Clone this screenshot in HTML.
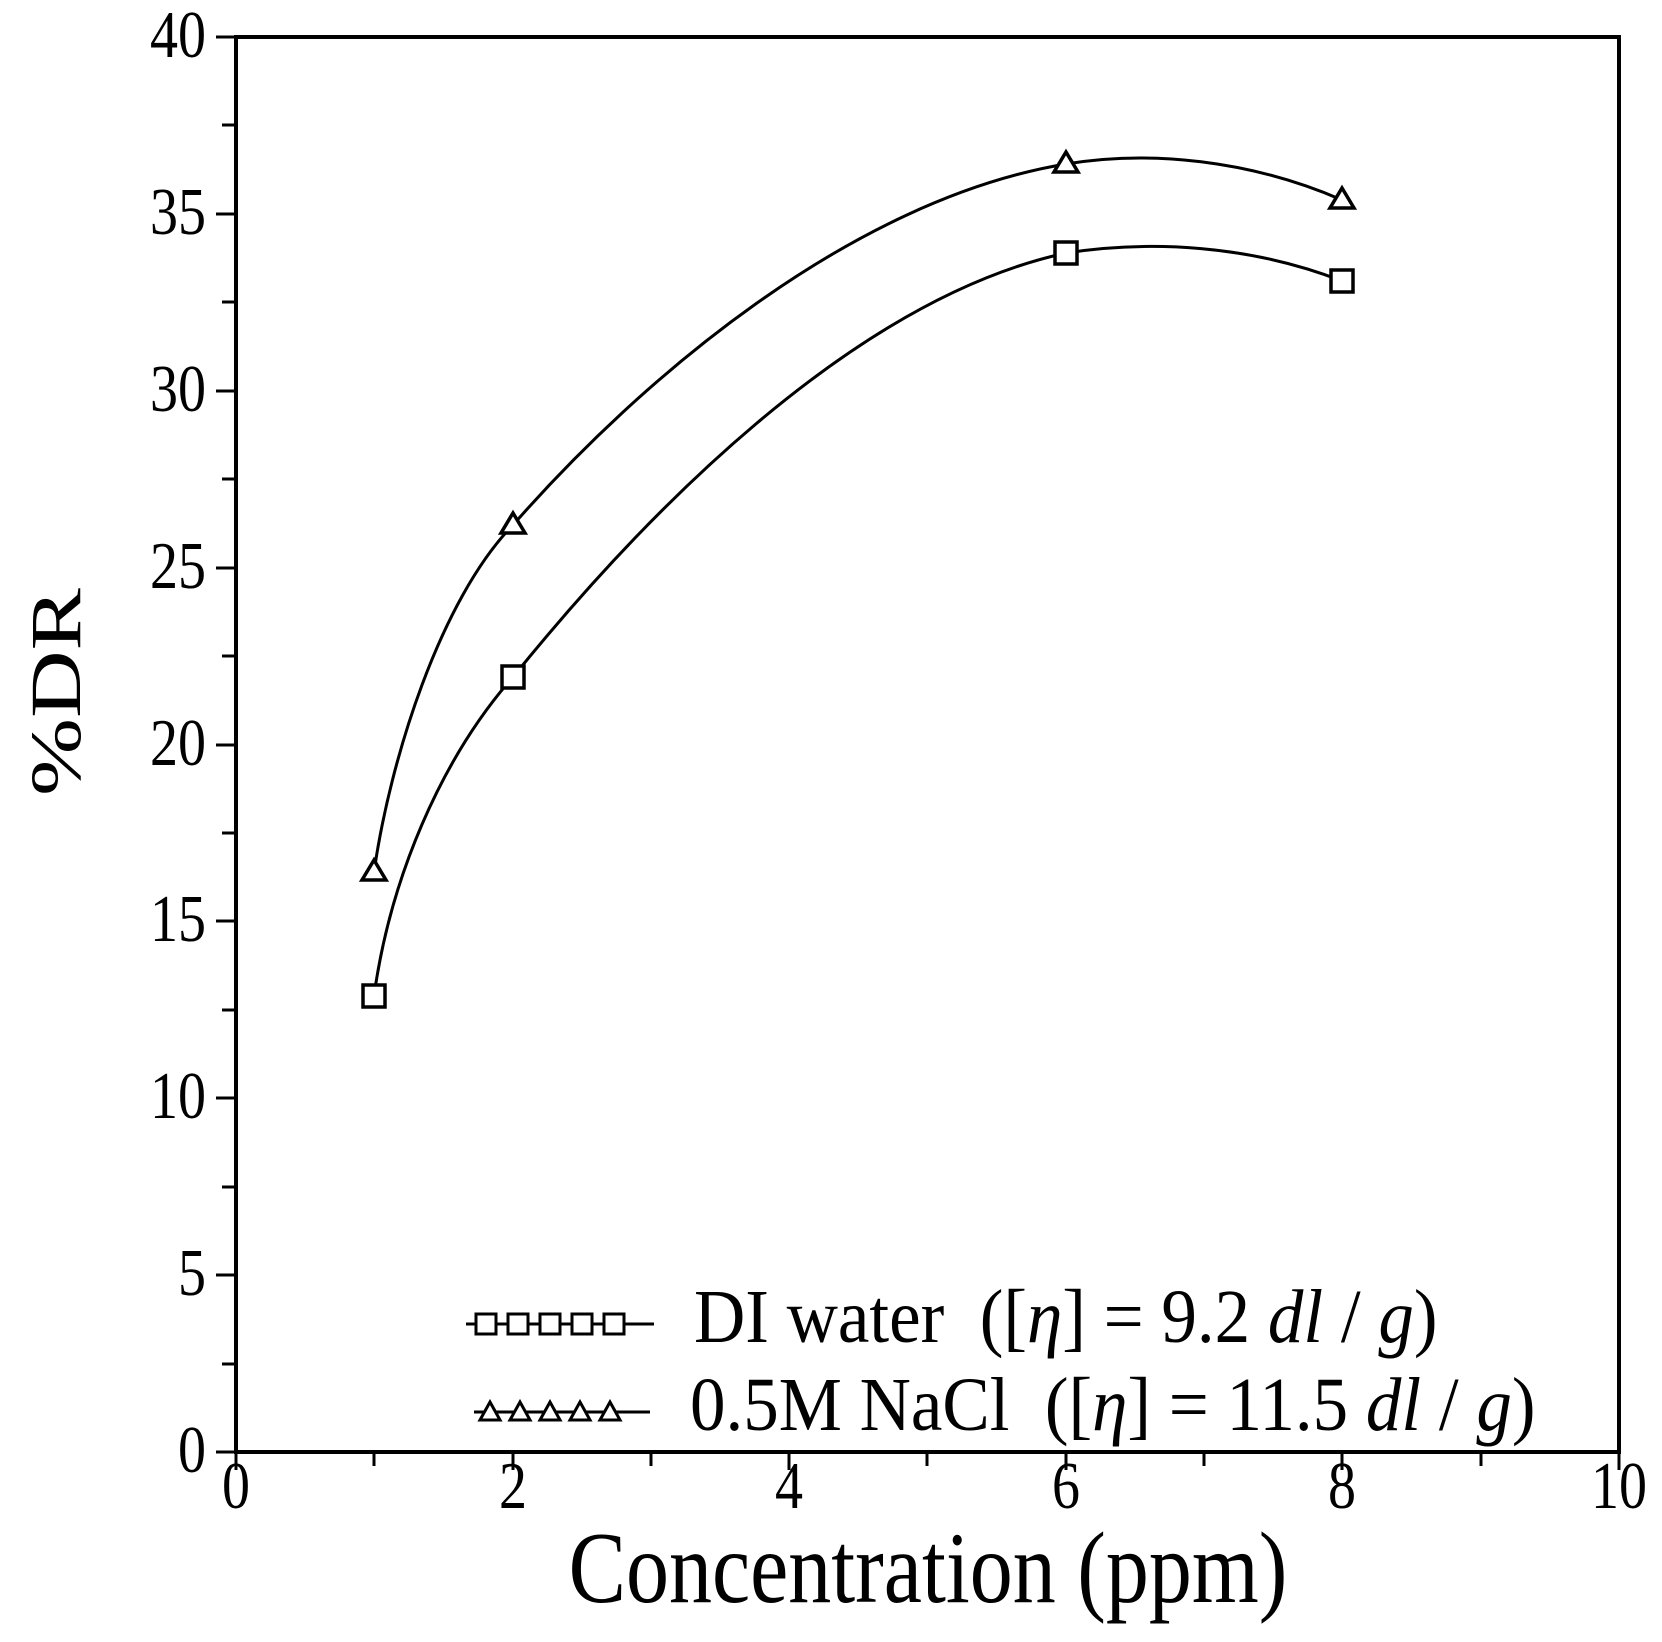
<!DOCTYPE html>
<html><head><style>body{margin:0;background:#fff}</style></head><body>
<svg width="1662" height="1637" xmlns="http://www.w3.org/2000/svg" font-family="Liberation Serif, serif">
<rect x="236" y="37" width="1383" height="1415" fill="none" stroke="#000" stroke-width="4"/>
<g stroke="#000" stroke-width="3">
<line x1="236" y1="1452" x2="236" y2="1470"/><line x1="374" y1="1452" x2="374" y2="1466"/>
<line x1="513" y1="1452" x2="513" y2="1470"/><line x1="651" y1="1452" x2="651" y2="1466"/>
<line x1="789" y1="1452" x2="789" y2="1470"/><line x1="927" y1="1452" x2="927" y2="1466"/>
<line x1="1066" y1="1452" x2="1066" y2="1470"/><line x1="1204" y1="1452" x2="1204" y2="1466"/>
<line x1="1342" y1="1452" x2="1342" y2="1470"/><line x1="1481" y1="1452" x2="1481" y2="1466"/>
<line x1="1619" y1="1452" x2="1619" y2="1470"/>
<line x1="216" y1="1452" x2="236" y2="1452"/><line x1="222" y1="1364" x2="236" y2="1364"/>
<line x1="216" y1="1275" x2="236" y2="1275"/><line x1="222" y1="1187" x2="236" y2="1187"/>
<line x1="216" y1="1098" x2="236" y2="1098"/><line x1="222" y1="1010" x2="236" y2="1010"/>
<line x1="216" y1="921" x2="236" y2="921"/><line x1="222" y1="833" x2="236" y2="833"/>
<line x1="216" y1="745" x2="236" y2="745"/><line x1="222" y1="656" x2="236" y2="656"/>
<line x1="216" y1="568" x2="236" y2="568"/><line x1="222" y1="479" x2="236" y2="479"/>
<line x1="216" y1="391" x2="236" y2="391"/><line x1="222" y1="302" x2="236" y2="302"/>
<line x1="216" y1="214" x2="236" y2="214"/><line x1="222" y1="125" x2="236" y2="125"/>
<line x1="216" y1="37" x2="236" y2="37"/>
</g>
<g font-size="56" text-anchor="end">
<text transform="translate(206,1472) scale(1,1.2)">0</text>
<text transform="translate(206,1295) scale(1,1.2)">5</text>
<text transform="translate(206,1118) scale(1,1.2)">10</text>
<text transform="translate(206,941) scale(1,1.2)">15</text>
<text transform="translate(206,765) scale(1,1.2)">20</text>
<text transform="translate(206,588) scale(1,1.2)">25</text>
<text transform="translate(206,411) scale(1,1.2)">30</text>
<text transform="translate(206,234) scale(1,1.2)">35</text>
<text transform="translate(206,57) scale(1,1.2)">40</text>
</g>
<g font-size="56" text-anchor="middle">
<text transform="translate(236,1508) scale(1,1.2)">0</text>
<text transform="translate(513,1508) scale(1,1.2)">2</text>
<text transform="translate(789,1508) scale(1,1.2)">4</text>
<text transform="translate(1066,1508) scale(1,1.2)">6</text>
<text transform="translate(1342,1508) scale(1,1.2)">8</text>
<text transform="translate(1619,1508) scale(1,1.2)">10</text>
</g>
<text transform="translate(928,1602) scale(1,1.18)" font-size="86" text-anchor="middle">Concentration (ppm)</text>
<text transform="translate(80,692) rotate(-90) scale(1.3,1)" font-size="72" text-anchor="middle">%DR</text>
<g fill="none" stroke="#000" stroke-width="3">
<path d="M374,996 C390,880 440,760 513,677 C640,520 850,300 1066,253 C1150,240 1250,245 1342,281"/>
<path d="M374,872 C390,760 440,600 513,525 C640,380 850,200 1066,164 C1150,150 1250,160 1342,200"/>
</g>
<g fill="#fff" stroke="#000" stroke-width="3.5">
<rect x="363" y="985" width="22" height="22"/><rect x="502" y="666" width="22" height="22"/>
<rect x="1055" y="242" width="22" height="22"/><rect x="1331" y="270" width="22" height="22"/>
<path d="M374,860 l12,20 h-24z"/><path d="M513,513 l12,20 h-24z"/>
<path d="M1066,152 l12,20 h-24z"/><path d="M1342,188 l12,20 h-24z"/>
</g>
<g stroke="#000" stroke-width="3" fill="#fff">
<line x1="466" y1="1324" x2="654" y2="1324"/>
<rect x="476" y="1314" width="20" height="20"/><rect x="508" y="1314" width="20" height="20"/>
<rect x="540" y="1314" width="20" height="20"/><rect x="572" y="1314" width="20" height="20"/>
<rect x="604" y="1314" width="20" height="20"/>
<line x1="474" y1="1412" x2="650" y2="1412"/>
<path d="M490,1402 l10,18 h-20z"/><path d="M520,1402 l10,18 h-20z"/><path d="M550,1402 l10,18 h-20z"/>
<path d="M580,1402 l10,18 h-20z"/><path d="M610,1402 l10,18 h-20z"/>
</g>
<g font-size="71">
<text transform="translate(694,1342) scale(1,1.08)" xml:space="preserve">DI water  ([<tspan font-style="italic">η</tspan>] = 9.2 <tspan font-style="italic">dl</tspan> / <tspan font-style="italic">g</tspan>)</text>
<text transform="translate(690,1430) scale(1,1.08)" xml:space="preserve">0.5M NaCl  ([<tspan font-style="italic">η</tspan>] = 11.5 <tspan font-style="italic">dl</tspan> / <tspan font-style="italic">g</tspan>)</text>
</g>
</svg>
</body></html>
